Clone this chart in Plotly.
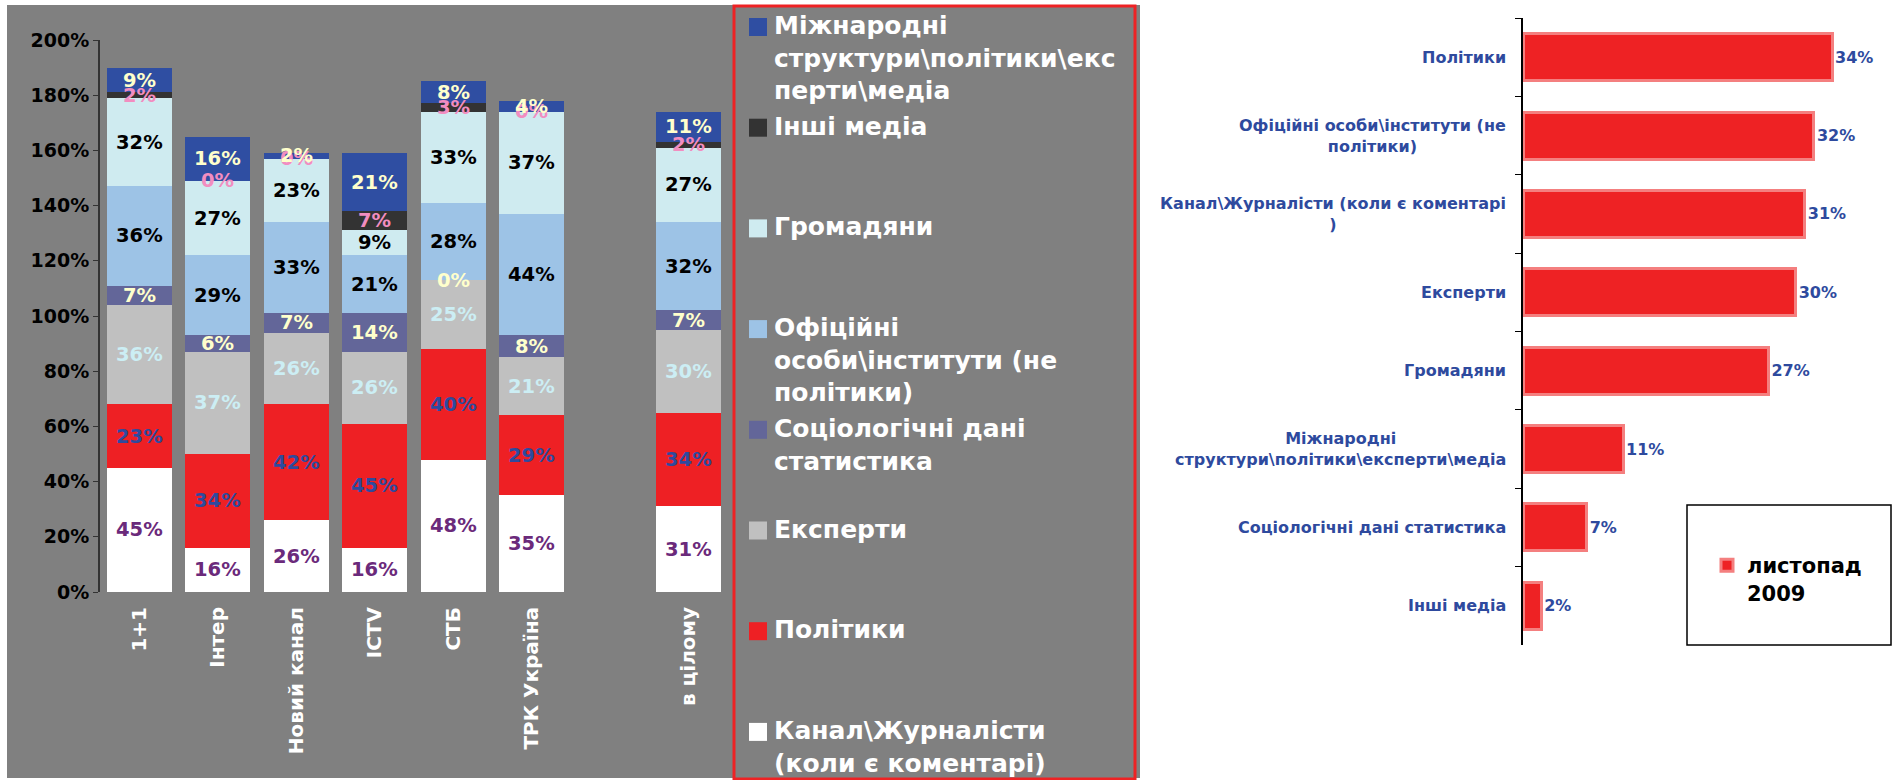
import numpy as np
import plotly.graph_objects as go

W, H = 1898, 780

# ---------------- data: left stacked chart ----------------
channels = ["1+1", "Інтер", "Новий канал", "ICTV", "СТБ", "ТРК Україна", "в цілому"]
slots = [0, 1, 2, 3, 4, 5, 7]

kanal = [45, 16, 26, 16, 48, 35, 31]
polityky = [23, 34, 42, 45, 40, 29, 34]
eksperty = [36, 37, 26, 26, 25, 21, 30]
sotsiol = [7, 6, 7, 14, 0, 8, 7]
ofitsiini = [36, 29, 33, 21, 28, 44, 32]
hromadiany = [32, 27, 23, 9, 33, 37, 27]
inshi_media = [2, 0, 0, 7, 3, 0, 2]
mizhnar = [9, 16, 2, 21, 8, 4, 11]

series_values = [kanal, polityky, eksperty, sotsiol, ofitsiini, hromadiany, inshi_media, mizhnar]
series_names = [
    "Канал\\Журналісти (коли є коментарі)",
    "Політики",
    "Експерти",
    "Соціологічні дані статистика",
    "Офіційні особи\\інститути (не політики)",
    "Громадяни",
    "Інші медіа",
    "Міжнародні структури\\політики\\експерти\\медіа",
]
# legend texts, listed top item first
legend_texts = [
    "Міжнародні<br>структури\\політики\\екс<br>перти\\медіа",
    "Інші медіа",
    "Громадяни",
    "Офіційні<br>особи\\інститути (не<br>політики)",
    "Соціологічні дані<br>статистика",
    "Експерти",
    "Політики",
    "Канал\\Журналісти<br>(коли є коментарі)",
]
bar_colors = ["#FFFFFF", "#EE2024", "#C0C0C0", "#636699", "#9DC3E6", "#CFEBF0", "#333333", "#2F4EA2"]
label_colors = ["#6B2A7B", "#2E4A9E", "#CCEEF4", "#FFFFCC", "#000000", "#000000", "#F28DC0", "#FFFFCC"]

# ---------------- data: right horizontal chart ----------------
right_keys = [
    "Політики",
    "Офіційні особи\\інститути (не політики)",
    "Канал\\Журналісти (коли є коментарі)",
    "Експерти",
    "Громадяни",
    "Міжнародні структури\\політики\\експерти\\медіа",
    "Соціологічні дані статистика",
    "Інші медіа",
]
right_label_text = [
    "Політики",
    "Офіційні особи\\інститути (не<br>політики)",
    "Канал\\Журналісти (коли є коментарі<br>)",
    "Експерти",
    "Громадяни",
    "Міжнародні<br>структури\\політики\\експерти\\медіа",
    "Соціологічні дані статистика",
    "Інші медіа",
]
right_vals = [34, 32, 31, 30, 27, 11, 7, 2]
right_series = "листопад<br>2009"

FONT = "DejaVu Sans"

fig = go.Figure()

# left stacked bars
for vals, name, col in zip(series_values, series_names, bar_colors):
    fig.add_trace(go.Bar(
        x=slots, y=vals, name=name, marker=dict(color=col, line=dict(width=0)),
        width=0.83, xaxis="x", yaxis="y", showlegend=False,
    ))

annotations = []
base = np.zeros(len(slots))
for vals, lc in zip(series_values, label_colors):
    v = np.array(vals, dtype=float)
    for xs, b, val in zip(slots, base, v):
        annotations.append(dict(
            x=xs, y=b + val / 2, xref="x", yref="y", text=f"{int(val)}%",
            showarrow=False, font=dict(family=FONT, size=19.5, color=lc, weight="bold"),
        ))
    base = base + v

shapes = [
    dict(type="rect", xref="paper", yref="paper", x0=7 / W, x1=1140 / W, y0=1 - 778 / H, y1=1 - 5 / H,
         fillcolor="#808080", line=dict(width=0), layer="below"),
    dict(type="rect", xref="paper", yref="paper", x0=734 / W, x1=1135 / W, y0=1 - 779 / H, y1=1 - 6 / H,
         fillcolor="rgba(0,0,0,0)", line=dict(color="#EE2224", width=3), layer="below"),
    dict(type="rect", xref="paper", yref="paper", x0=1687 / W, x1=1891 / W, y0=1 - 645 / H, y1=1 - 505 / H,
         fillcolor="#FFFFFF", line=dict(color="#000000", width=1.5), layer="below"),
]

# manual legend for the stacked chart (top item = last stacked series)
legend_colors = bar_colors[::-1]
for k, (txt, col) in enumerate(zip(legend_texts, legend_colors)):
    cy = 27 + k * 100.7
    shapes.append(dict(type="rect", xref="paper", yref="paper",
                       x0=749 / W, x1=767 / W, y0=1 - (cy + 9) / H, y1=1 - (cy - 9) / H,
                       fillcolor=col, line=dict(width=0), layer="above"))
    annotations.append(dict(
        x=773 / W, y=1 - (cy - 17) / H, xref="paper", yref="paper", xanchor="left", yanchor="top",
        text=txt, align="left", showarrow=False, borderpad=0,
        font=dict(family=FONT, size=25, color="#FFFFFF", weight="bold"),
    ))

# right horizontal bars
fig.add_trace(go.Bar(
    x=right_vals, y=right_keys, orientation="h", name=right_series,
    marker=dict(color="#EE2224", line=dict(color="#F47F7F", width=3)),
    width=0.6, xaxis="x2", yaxis="y2", legend="legend2", showlegend=True,
    text=[f"{v}%" for v in right_vals], textposition="outside", cliponaxis=False,
    textfont=dict(family=FONT, size=16, color="#2E4A9E", weight="bold"),
))

for key, txt in zip(right_keys, right_label_text):
    annotations.append(dict(
        x=1508 / W, y=key, xref="paper", yref="y2", text=txt, xanchor="right",
        align="center", showarrow=False,
        font=dict(family=FONT, size=16, color="#2E4A9E", weight="bold"),
    ))

fig.update_layout(
    width=W, height=H, autosize=False,
    margin=dict(l=0, r=0, t=0, b=0, autoexpand=False),
    paper_bgcolor="#FFFFFF", plot_bgcolor="rgba(0,0,0,0)",
    barmode="stack",
    xaxis=dict(domain=[100 / W, 728 / W], range=[-0.5, 7.5], tickvals=slots, ticktext=channels,
               tickangle=-90, tickfont=dict(family=FONT, size=20, color="#FFFFFF", weight="bold"),
               showline=False, ticks="", showgrid=False, zeroline=False, anchor="y",
               ticklabelstandoff=10, fixedrange=True),
    yaxis=dict(domain=[1 - 592 / H, 1 - 40 / H], range=[0, 200], dtick=20, ticksuffix="%",
               tickfont=dict(family=FONT, size=19, color="#000000", weight="bold"),
               showline=True, linecolor="#333333", linewidth=2, ticks="outside", ticklen=5,
               tickcolor="#333333", showgrid=False, zeroline=False, anchor="x", fixedrange=True),
    xaxis2=dict(domain=[1523 / W, 1.0], range=[0, 41.25], visible=False, anchor="y2", fixedrange=True),
    yaxis2=dict(domain=[1 - 645 / H, 1 - 18 / H], type="category", categoryorder="array",
                categoryarray=right_keys, autorange="reversed", showticklabels=False,
                showline=True, linecolor="#000000", linewidth=1.5, ticks="outside", ticklen=6,
                tickcolor="#000000", tickson="boundaries", showgrid=False, zeroline=False,
                anchor="x2", fixedrange=True),
    legend2=dict(x=1707 / W, y=1 - 545 / H, xanchor="left", yanchor="top",
                 bgcolor="rgba(0,0,0,0)", borderwidth=0, valign="top", itemwidth=30,
                 font=dict(family=FONT, size=21, color="#000000", weight="bold")),
    annotations=annotations,
    shapes=shapes,
)

fig.write_html("out.html", config={"displayModeBar": False},
               post_script="document.body.style.margin='0px';")
